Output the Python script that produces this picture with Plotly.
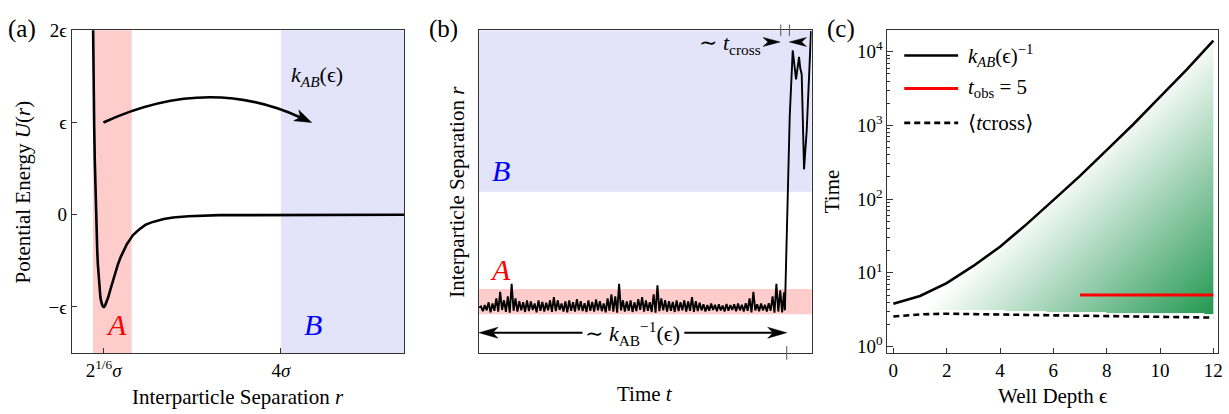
import numpy as np
import plotly.graph_objects as go

W, H = 1229, 414
FONT = "Liberation Serif, DejaVu Serif, Times New Roman, serif"
FRAME = "#333333"
RED_BAND = "rgb(255,204,204)"
BLUE_BAND = "rgb(227,227,250)"

# ---------------- data ----------------
# (a) pair potential U(r) (units of epsilon)
r_a = [0.93, 0.94, 0.95, 0.96, 0.97, 0.98, 0.99, 1.00, 1.01, 1.02, 1.03, 1.04, 1.05, 1.06,
       1.07, 1.08, 1.09, 1.10, 1.1225, 1.13, 1.15, 1.175, 1.20, 1.225, 1.25, 1.275, 1.30,
       1.35, 1.40, 1.45, 1.50, 1.55, 1.60, 1.70, 1.80, 1.90, 2.00, 2.10, 2.25, 2.50, 3.00,
       4.00, 5.00, 6.00]
U_a = [3.37, 2.61, 1.96, 1.42, 0.96, 0.58, 0.26, 0.00, -0.22, -0.40, -0.54, -0.66, -0.76, -0.83,
       -0.89, -0.93, -0.96, -0.98, -1.00, -1.00, -0.98, -0.94, -0.89, -0.83, -0.77, -0.71, -0.66,
       -0.55, -0.46, -0.38, -0.32, -0.27, -0.22, -0.16, -0.11, -0.083, -0.062, -0.046, -0.031,
       -0.016, -0.005, -0.001, 0.0, 0.0]
A_region = [0.95, 1.58]      # r range of state A
B_start = 4.0                # r >= 4 sigma is state B
r_min = 2 ** (1 / 6)

# (b) trajectory r(t): dwell in A (sampled), then crossing to B
traj_A_r = [
    1.12, 1.15, 1.03, 1.18, 1.05, 1.25, 1.00, 1.22, 1.04, 1.35, 1.02, 1.51, 1.06, 1.30, 1.01, 1.40,
    0.99, 1.71, 1.04, 1.35, 1.02, 1.28, 1.05, 1.25, 1.01, 1.30, 1.03, 1.27, 1.06, 1.22, 1.00, 1.30,
    1.04, 1.26, 1.02, 1.24, 1.05, 1.30, 1.01, 1.38, 1.03, 1.30, 1.06, 1.22, 1.02, 1.27, 1.00, 1.30,
    1.04, 1.25, 1.02, 1.33, 1.05, 1.28, 1.03, 1.23, 1.01, 1.30, 1.04, 1.26, 1.02, 1.32, 1.05, 1.28,
    1.03, 1.22, 1.00, 1.35, 1.04, 1.45, 1.02, 1.40, 0.99, 1.71, 1.05, 1.30, 1.02, 1.27, 1.04, 1.30,
    1.01, 1.25, 1.03, 1.33, 1.06, 1.38, 1.02, 1.30, 1.04, 1.25, 1.01, 1.45, 0.99, 1.67, 1.03, 1.35,
    1.05, 1.30, 1.02, 1.28, 1.04, 1.26, 1.01, 1.30, 1.03, 1.25, 1.05, 1.30, 1.02, 1.27, 1.04, 1.38,
    1.01, 1.28, 1.03, 1.24, 1.05, 1.20, 1.02, 1.18, 1.04, 1.22, 1.06, 1.19, 1.03, 1.20, 1.05, 1.17,
    1.02, 1.21, 1.04, 1.18, 1.06, 1.20, 1.03, 1.22, 1.05, 1.19, 1.02, 1.23, 1.04, 1.35, 1.00, 1.51,
    1.05, 1.20, 1.03, 1.22, 1.05, 1.19, 1.02, 1.23, 1.04, 1.40, 0.99, 1.71, 1.02, 1.55, 1.00, 1.50]
traj_A_tend = 0.917
traj_X_t = [0.9195, 0.927, 0.930, 0.934, 0.943, 0.953, 0.962, 0.9655, 0.970, 0.977, 0.985, 0.9925, 0.998]
traj_X_r = [1.05, 3.95, 5.08, 5.88, 7.52, 6.80, 7.36, 7.08, 6.92, 4.56, 5.52, 7.08, 8.00]
t_cross_start, t_cross_end = 0.907, 0.933
t_escape = 0.925

# (c) time scales vs well depth
eps = [0, 1, 2, 3, 4, 5, 6, 7, 8, 9, 10, 11, 12]
kinv = [3.81, 4.85, 7.26, 12.4, 22.6, 45.8, 97, 207, 463, 1040, 2440, 5740, 14200]
tcross = [2.55, 2.73, 2.79, 2.77, 2.73, 2.69, 2.65, 2.62, 2.60, 2.57, 2.55, 2.51, 2.47]
tobs_eps = [7, 12]
tobs_val = 5

# ---------------- layout geometry ----------------
def px_dom(x0, x1, total):
    return [x0 / total, x1 / total]

dom_ax = px_dom(72, 406, W)
dom_bx = px_dom(481, 815, W)
dom_cx = px_dom(891, 1223, W)
dom_y = [1 - 355 / H, 1 - 21 / H]

rng_ax = [0.605, 6.005]
rng_ay = [-1.5, 2.0005]
rng_bx = [0.0, 1.0]
rng_by = [-0.0115, 8.02]
rng_cx = [-0.224, 12.175]
rng_cy = [-0.088, 4.292]

plot_h = (dom_y[1] - dom_y[0]) * H
ppx_a = (dom_ax[1] - dom_ax[0]) * W / (rng_ax[1] - rng_ax[0])
ppy_a = plot_h / (rng_ay[1] - rng_ay[0])
ppx_b = (dom_bx[1] - dom_bx[0]) * W / (rng_bx[1] - rng_bx[0])

fig = go.Figure()

# (a) potential curve
fig.add_trace(go.Scatter(x=r_a, y=U_a, mode="lines", line=dict(color="black", width=2.6),
                         xaxis="x", yaxis="y", hoverinfo="skip", showlegend=False))

# (b) trajectory
traj_A_t = np.linspace(0, traj_A_tend, len(traj_A_r))
fig.add_trace(go.Scatter(x=list(traj_A_t) + traj_X_t, y=traj_A_r + traj_X_r, mode="lines",
                         line=dict(color="black", width=1.9), xaxis="x2", yaxis="y2",
                         hoverinfo="skip", showlegend=False))

# (c) gradient fill between <t_cross> and k^-1
eg = np.linspace(0, 12, 241)
ec = (eg[:-1] + eg[1:]) / 2
lg = np.linspace(0.40, 4.20, 381)
lc = (lg[:-1] + lg[1:]) / 2
E, LT = np.meshgrid(ec, lc)
upper = np.interp(E, eps, np.log10(kinv)) - 0.03
lower = np.interp(E, eps, np.log10(tcross)) + 0.05
zz = np.clip((E - 2.857 * LT + 0.3) / 11.0, 0, 1)
zz = np.where((LT > lower) & (LT < upper), zz, np.nan)
fig.add_trace(go.Heatmap(x=ec, y=10 ** lc, z=zz, zmin=0, zmax=1, showscale=False,
                         colorscale=[[0, "rgb(255,255,255)"], [1, "rgb(36,152,82)"]],
                         xaxis="x3", yaxis="y3", hoverinfo="skip"))
fig.add_trace(go.Scatter(x=eps, y=kinv, mode="lines", line=dict(color="black", width=2.6),
                         xaxis="x3", yaxis="y3", hoverinfo="skip", showlegend=False))
fig.add_trace(go.Scatter(x=tobs_eps, y=[tobs_val] * len(tobs_eps), mode="lines",
                         line=dict(color="rgb(255,0,0)", width=3), xaxis="x3", yaxis="y3",
                         hoverinfo="skip", showlegend=False))
fig.add_trace(go.Scatter(x=eps, y=tcross, mode="lines",
                         line=dict(color="black", width=2.6, dash="6px,4px"), xaxis="x3", yaxis="y3",
                         hoverinfo="skip", showlegend=False))

# ---------------- shapes ----------------
shapes = []
shapes.append(dict(type="rect", xref="x", yref="y domain", x0=A_region[0], x1=A_region[1], y0=0, y1=1,
                   fillcolor=RED_BAND, line=dict(width=0), layer="below"))
shapes.append(dict(type="rect", xref="x", yref="y domain", x0=B_start, x1=rng_ax[1], y0=0, y1=1,
                   fillcolor=BLUE_BAND, line=dict(width=0), layer="below"))
shapes.append(dict(type="rect", xref="x2 domain", yref="y2", x0=0, x1=1, y0=A_region[0], y1=A_region[1],
                   fillcolor=RED_BAND, line=dict(width=0), layer="below"))
shapes.append(dict(type="rect", xref="x2 domain", yref="y2", x0=0, x1=1, y0=B_start, y1=rng_by[1],
                   fillcolor=BLUE_BAND, line=dict(width=0), layer="below"))


def head(xref, yref, tx, ty, ang_deg, L, Hh, notch=0.72):
    a = np.deg2rad(ang_deg)
    dx, dy = np.cos(a), np.sin(a)
    nx, ny = -dy, dx
    pts = [(0, 0), (-L * dx + Hh / 2 * nx, -L * dy + Hh / 2 * ny), (-notch * L * dx, -notch * L * dy),
           (-L * dx - Hh / 2 * nx, -L * dy - Hh / 2 * ny)]
    path = "M" + " L".join(f"{x:.2f},{y:.2f}" for x, y in pts) + " Z"
    return dict(type="path", xref=xref, yref=yref, xsizemode="pixel", ysizemode="pixel",
                xanchor=tx, yanchor=ty, path=path, fillcolor="black",
                line=dict(color="black", width=0.5), layer="above")


# (a) curved rate arrow
tip_a = (4.5, 1.0)
ang_a = -25
La, Ha = 17, 12
end_a = (tip_a[0] - 0.72 * La * np.cos(np.deg2rad(ang_a)) / ppx_a,
         tip_a[1] - 0.72 * La * np.sin(np.deg2rad(ang_a)) / ppy_a)
shapes.append(dict(type="path", xref="x", yref="y",
                   path=f"M 1.12,1.0 Q 2.8,1.52 {end_a[0]:.4f},{end_a[1]:.4f}",
                   line=dict(color="black", width=2.6), layer="above"))
shapes.append(head("x", "y", tip_a[0], tip_a[1], ang_a, La, Ha))

# (b) bottom double arrow
y_arr = 0.493
Lb, Hb = 19, 11
shapes.append(dict(type="line", xref="x2", yref="y2", x0=0 + 0.72 * Lb / ppx_b, x1=0.311, y0=y_arr, y1=y_arr,
                   line=dict(color="black", width=2)))
shapes.append(dict(type="line", xref="x2", yref="y2", x0=0.617, x1=t_escape - 0.72 * Lb / ppx_b,
                   y0=y_arr, y1=y_arr, line=dict(color="black", width=2)))
shapes.append(head("x2", "y2", 0.0, y_arr, 180, Lb, Hb))
shapes.append(head("x2", "y2", t_escape, y_arr, 0, Lb, Hb))
# (b) t_cross arrowheads and ticks
y_tc = 7.73
shapes.append(head("x2", "y2", t_cross_start - 0.002, y_tc, 0, 17, 9))
shapes.append(head("x2", "y2", t_cross_end, y_tc, 180, 17, 9))
for tt in (t_cross_start, t_cross_end):
    shapes.append(dict(type="line", xref="x2", yref="y2 domain", x0=tt, x1=tt, y0=0.982, y1=1.018,
                       line=dict(color="#555555", width=1)))
shapes.append(dict(type="line", xref="x2", yref="y2 domain", x0=t_escape, x1=t_escape, y0=-0.021, y1=0.021,
                   line=dict(color="#555555", width=1)))

# (c) manual legend
leg_y = [0.922, 0.820, 0.713]
leg_styles = [dict(color="black", width=2.6), dict(color="rgb(255,0,0)", width=3),
              dict(color="black", width=2.6, dash="6px,4px")]
for yy, st in zip(leg_y, leg_styles):
    shapes.append(dict(type="line", xref="x3 domain", yref="y3 domain", x0=0.051, x1=0.214, y0=yy, y1=yy,
                       line=st))

# ---------------- annotations ----------------
ann = []


def ptxt(x, y, text, size, **kw):
    d = dict(xref="paper", yref="paper", x=x / W, y=1 - y / H, text=text, showarrow=False,
             font=dict(family=FONT, size=size, color="black"), xanchor="center", yanchor="middle")
    d.update(kw)
    ann.append(d)


ptxt(22, 20, "(a)", 25)
ptxt(445, 20, "(b)", 25)
ptxt(844, 20, "(c)", 25)
ptxt(23, 188, "Potential Energy <i>U</i>(<i>r</i>)", 21, textangle=-90)
ptxt(239, 401, "Interparticle Separation <i>r</i>", 21)
ptxt(459, 188, "Interparticle Separation <i>r</i>", 21, textangle=-90)
ptxt(648, 397, "Time <i>t</i>", 21)
ptxt(835, 188, "Time", 21, textangle=-90)
ptxt(1057, 399, "Well Depth ϵ", 21)


def dtxt(xref, yref, x, y, text, size, color="black", **kw):
    d = dict(xref=xref, yref=yref, x=x, y=y, text=text, showarrow=False,
             font=dict(family=FONT, size=size, color=color), xanchor="center", yanchor="middle")
    d.update(kw)
    ann.append(d)


dtxt("x", "y", 1.34, -1.19, "<i>A</i>", 30, "rgb(255,0,0)")
dtxt("x", "y", 4.53, -1.19, "<i>B</i>", 30, "rgb(0,0,255)")
dtxt("x", "y", 4.58, 1.50, "<i>k</i><sub><i>AB</i></sub>(ϵ)", 22)
dtxt("x2", "y2", 0.066, 4.53, "<i>B</i>", 30, "rgb(0,0,255)")
dtxt("x2", "y2", 0.063, 2.06, "<i>A</i>", 30, "rgb(255,0,0)")
dtxt("x2", "y2", 0.461, 0.47, "∼ <i>k</i><sub>AB</sub><sup>−1</sup>(ϵ)", 22)
dtxt("x2", "y2", 0.754, 7.68, "∼ <i>t</i><sub>cross</sub>", 22)
leg_txt = ["<i>k</i><sub><i>AB</i></sub>(ϵ)<sup>−1</sup>", "<i>t</i><sub>obs</sub> = 5", "⟨<i>t</i>cross⟩"]
for yy, tx in zip(leg_y, leg_txt):
    dtxt("x3 domain", "y3 domain", 0.238, yy, tx, 21, xanchor="left")

# ---------------- axes ----------------
common = dict(showline=True, linecolor=FRAME, linewidth=1, mirror=True, showgrid=False, zeroline=False,
              tickfont=dict(family=FONT, size=19, color="black"), tickcolor=FRAME)

minor_vals = [m * 10 ** p for p in range(0, 5) for m in range(2, 10)]

fig.update_layout(
    width=W, height=H, margin=dict(l=0, r=0, t=0, b=0),
    paper_bgcolor="white", plot_bgcolor="white", showlegend=False,
    font=dict(family=FONT, color="black"),
    xaxis=dict(domain=dom_ax, range=rng_ax, anchor="y", tickmode="array", tickvals=[r_min, 4],
               ticktext=["2<sup>1/6</sup><i>σ</i>", "4<i>σ</i>"], ticks="inside", ticklen=5, **common),
    yaxis=dict(domain=dom_y, range=rng_ay, anchor="x", tickmode="array", tickvals=[-1, 0, 1, 2],
               ticktext=["−ϵ", "0", "ϵ", "2ϵ"], ticks="inside", ticklen=5, **common),
    xaxis2=dict(domain=dom_bx, range=rng_bx, anchor="y2", showticklabels=False, ticks="", **common),
    yaxis2=dict(domain=dom_y, range=rng_by, anchor="x2", showticklabels=False, ticks="", **common),
    xaxis3=dict(domain=dom_cx, range=rng_cx, anchor="y3", tickmode="array", tickvals=[0, 2, 4, 6, 8, 10, 12],
                ticks="inside", ticklen=5, **common),
    yaxis3=dict(domain=dom_y, range=rng_cy, anchor="x3", type="log", tickmode="array",
                tickvals=[1, 10, 100, 1000, 10000],
                ticktext=["10<sup>0</sup>", "10<sup>1</sup>", "10<sup>2</sup>", "10<sup>3</sup>", "10<sup>4</sup>"],
                ticks="inside", ticklen=6,
                minor=dict(ticks="inside", ticklen=3, tickcolor=FRAME, tickmode="array", tickvals=minor_vals,
                           showgrid=False),
                **common),
    shapes=shapes,
    annotations=ann,
)

fig.write_html("out.html", config={"displayModeBar": False},
               post_script="document.body.style.margin='0';document.body.style.overflow='hidden';")
